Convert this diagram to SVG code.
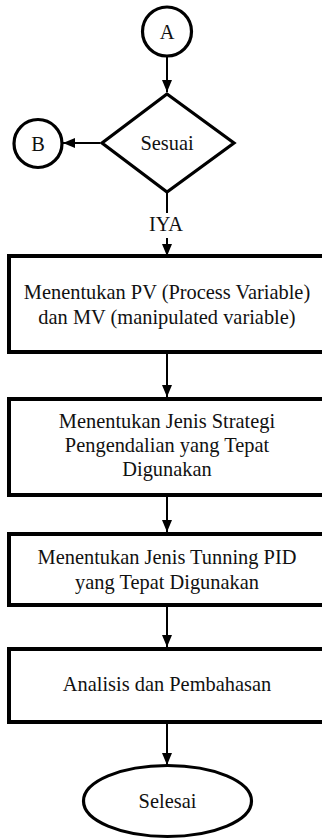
<svg xmlns="http://www.w3.org/2000/svg" width="322" height="840" viewBox="0 0 322 840">
<style>
.t{font-family:'Liberation Serif','Times New Roman',serif;font-size:20.4px;fill:#111;text-anchor:middle}
.box{fill:#fff;stroke:#000;stroke-width:4}
.term{fill:#fff;stroke:#000;stroke-width:3.2}
.ln{fill:none;stroke:#000;stroke-width:2}
</style>
<defs>
<marker id="ah" viewBox="0 0 12 10" refX="12" refY="5" markerWidth="12" markerHeight="10" markerUnits="userSpaceOnUse" orient="auto">
<path d="M0,0 L12,5 L0,10 Z" fill="#000"/>
</marker>
</defs>
<rect width="322" height="840" fill="#fff"/>
<g id="connectors">
<line class="ln" x1="167" y1="57" x2="167" y2="92" marker-end="url(#ah)"/>
<line class="ln" x1="100" y1="143" x2="63" y2="143" marker-end="url(#ah)"/>
<line class="ln" x1="167" y1="193" x2="167" y2="213"/>
<line class="ln" x1="167" y1="238" x2="167" y2="256" marker-end="url(#ah)"/>
<line class="ln" x1="167" y1="354" x2="167" y2="397" marker-end="url(#ah)"/>
<line class="ln" x1="167" y1="497" x2="167" y2="532" marker-end="url(#ah)"/>
<line class="ln" x1="167" y1="607" x2="167" y2="647" marker-end="url(#ah)"/>
<line class="ln" x1="167" y1="724" x2="167" y2="765" marker-end="url(#ah)"/>
<text class="t" x="166" y="231">IYA</text>
</g>
<g id="nodeA">
<circle class="term" cx="167" cy="31.5" r="24.5"/>
<text class="t" x="167" y="38.5">A</text>
</g>
<g id="decision">
<polygon class="term" points="167,94 234,143 167,192 102,143"/>
<text class="t" x="167" y="150">Sesuai</text>
</g>
<g id="nodeB">
<circle class="term" cx="38" cy="143.5" r="24"/>
<text class="t" x="38" y="150.5">B</text>
</g>
<g id="step1">
<rect class="box" x="9" y="256" width="330" height="96"/>
<text class="t" x="167" y="299">Menentukan PV (Process Variable)</text>
<text class="t" x="167" y="324">dan MV (manipulated variable)</text>
</g>
<g id="step2">
<rect class="box" x="9" y="399" width="330" height="96"/>
<text class="t" x="167" y="428">Menentukan Jenis Strategi</text>
<text class="t" x="167" y="452">Pengendalian yang Tepat</text>
<text class="t" x="167" y="476">Digunakan</text>
</g>
<g id="step3">
<rect class="box" x="9" y="534" width="330" height="71"/>
<text class="t" x="167" y="564">Menentukan Jenis Tunning PID</text>
<text class="t" x="167" y="589">yang Tepat Digunakan</text>
</g>
<g id="step4">
<rect class="box" x="9" y="649" width="330" height="73"/>
<text class="t" x="167" y="691">Analisis dan Pembahasan</text>
</g>
<g id="end">
<ellipse class="term" cx="167.5" cy="801" rx="84" ry="35.5"/>
<text class="t" x="167.5" y="808">Selesai</text>
</g>
</svg>
